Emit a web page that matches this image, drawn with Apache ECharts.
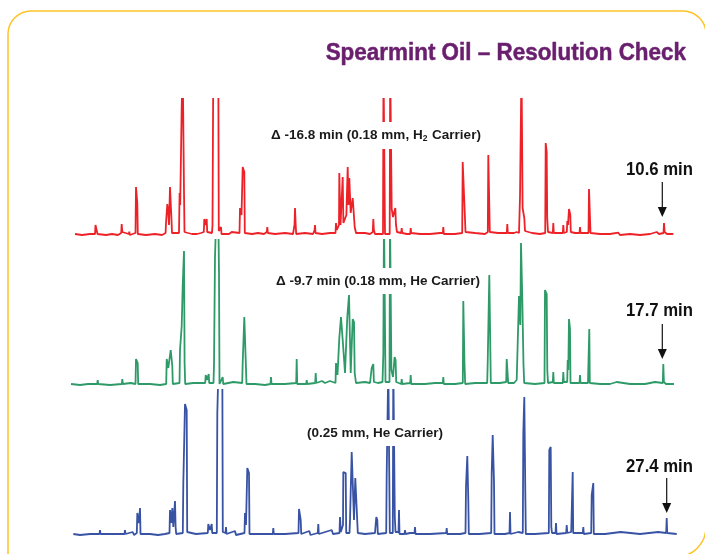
<!DOCTYPE html>
<html>
<head>
<meta charset="utf-8">
<script src="https://cdn.jsdelivr.net/npm/echarts@6/dist/echarts.min.js"></script>
<style>html,body{margin:0;padding:0;background:#fff;}#c{width:705px;height:554px;}</style>
</head>
<body>
<div id="c"></div>
<script>
// Chromatogram traces: [retention position, detector signal]
const redTrace = [[75,1],[82,0],[90,1],[95,1],[95.5,10],[97,9],[97.5,1],[106,0],[112,1],[118,0],[121.2,2],[121.7,11],[122.3,3],[124,1],[128.8,1],[129.3,3.3],[129.8,0],[135.5,2],[136,48],[137.3,32],[137.8,1],[146,0],[155,1],[162,0],[165.6,2],[166,12],[167.3,31],[168.3,22],[169,10],[170,48],[171,48],[171.5,15],[172,2],[179,2],[179.6,42],[180.2,30],[181.7,128],[182.7,170],[183.5,170],[184,43],[184.5,3],[188,2],[190,4],[192,1],[197,1],[201,2],[203.8,3],[204.3,16],[205.5,10],[206.7,16],[207.2,3],[212,2],[212.5,10],[213.3,170],[218.3,170],[218.8,4],[221,8],[221.5,1],[229,1],[231.7,3],[233,1],[239.5,2],[240,27],[241.5,20],[242.7,68],[244.3,63],[244.8,2],[252,1],[258,2],[264,1],[266.8,3],[267.3,8],[267.8,2],[275,1],[285,2],[293,1],[294.5,10],[295,27],[295.6,12],[296.2,1],[305,2],[313,1],[314.6,5],[315,10],[315.5,2],[322,1],[330,2],[335.5,2],[336,12],[336.8,5],[339,10],[339.3,62],[340.5,10],[342.7,58],[343.4,12],[346.4,20],[346.7,33],[347.7,68],[348.5,30],[349.3,57],[350.7,22],[352.7,37],[354,36],[354.7,8],[356,2],[365,2],[370,1],[372.8,3],[373.3,16],[373.9,5],[375,1],[383,1],[383.5,170],[384.5,170],[385,1],[389.7,1],[390.2,170],[391,170],[391.7,26],[393,18],[395.3,27],[396,10],[397,3],[401.2,2],[401.7,7],[402.2,2],[407,1],[410.2,1],[410.7,7],[411.2,2],[420,1],[430,1],[440,2],[442.8,2],[443.3,8],[443.8,1],[455,1],[462.2,2],[462.7,73],[464.3,72],[464.8,21],[465.5,3],[475,2],[485,1],[487.8,3],[488.3,80],[489.3,80],[489.8,3],[498,2],[506.8,2],[507.3,11],[507.8,2],[514,2],[516.7,3],[519,2],[520,38],[521.5,170],[522,170],[522.6,27],[524.3,17],[525,4],[532,2],[540,1],[545.2,2],[545.7,92],[546.7,83],[547.2,17],[548,3],[552.8,2],[553.3,12],[553.8,2],[560,2],[562.8,2],[563.3,10],[563.8,2],[566.8,3],[567.3,14],[568,10],[569,26],[570.3,20],[570.8,3],[575,2],[579.5,2],[580,8],[580.5,2],[588.5,2],[589,46],[590,45],[590.5,2],[600,1],[610,1],[618.3,2.3],[620,0],[630,1],[640,0],[650,1],[656.7,3],[659,1],[663.5,2],[664,12],[664.6,3],[667,1],[673.3,1]];

const greenTrace = [[71,1],[80,0],[88,1],[97.2,1],[97.7,5],[98.2,1],[110,0],[121.8,1],[122.3,6],[122.8,1],[130.7,2],[132,0],[135.5,1],[136,26],[137.7,22],[138.2,1],[150,1],[160,0],[166.2,1],[166.7,26],[168.3,17],[170.7,35],[172.3,19],[172.8,1],[179.5,2],[180,35],[181.7,59],[182.7,99],[184,134],[184.6,22],[185.2,1],[193.3,2],[195,0],[205.2,2],[205.7,10],[207,5],[208.7,11],[209.2,2],[213.5,2],[214,20],[215,128],[216.2,170],[218.3,170],[219,112],[219.5,1],[222.7,8],[223.2,1],[233.3,3],[235,1],[242.2,2],[242.7,22],[244.3,68],[246,70],[246.5,1],[255,1],[265,0],[270.5,1],[271,8],[271.5,1],[285,1],[296.2,2],[296.7,26],[297.2,1],[306.2,1],[306.7,5],[307.2,1],[315.2,2],[315.7,12],[316.2,2],[322,4],[325,2],[330,4],[335.5,2],[336,22],[337.5,10],[339.3,47],[341,68],[342.7,45],[345,12],[347.3,68],[349,90],[350.7,12],[352.7,66],[354,63],[354.7,12],[356,2],[365,3],[370,2],[371.7,17],[373.3,21],[373.9,3],[378,2],[382.5,3],[383.3,30],[384,170],[385,170],[385.5,3],[389.5,3],[390,170],[390.8,170],[391.4,15],[393,8],[394.6,28],[395.6,25],[396.2,3],[401.2,1],[401.7,6],[402.2,1],[410.2,2],[410.7,10],[411.2,1],[425,1],[435,2],[442.8,2],[443.3,8],[443.8,1],[455,1],[462.8,2],[463.3,84],[464.5,21],[465.2,1],[475,2],[487.2,2],[487.7,22],[489.3,110],[490.3,109],[490.8,2],[500,2],[506.2,3],[506.7,26],[507.7,25],[508.2,2],[514,2],[516.7,5],[518.5,3],[519,89],[520.3,60],[521,142],[522.3,86],[523.5,20],[524.2,2],[535,1],[544.5,2],[545,95],[546.7,91],[547.3,15],[548,2],[552.8,3],[553.3,13],[553.8,2],[560,2],[562.8,2],[563.3,13],[563.8,3],[567.2,3],[567.7,25],[568.3,15],[569,66],[570,56],[570.5,2],[579.5,2],[580,10],[580.5,2],[588,2],[588.3,16],[589.3,56],[589.8,2],[600,1],[610,1],[616.7,3],[618,1],[630,1],[645,1],[655,3],[657,1],[662.8,2],[663.3,21],[663.9,3],[666,1],[674,1]];

const blueTrace = [[73.3,1],[80,0],[90,1],[99.5,1],[100,5],[100.5,1],[112,1],[124.5,1],[125,5],[125.5,1],[132.7,3],[134,0],[136.8,2],[137.3,22],[139,12],[140,27],[140.5,1],[150,1],[158,0],[165,1],[169.5,2],[170,25],[171.3,12],[172.3,27],[173.3,8],[175,34],[175.6,8],[176.2,1],[182.8,2],[183.3,51],[185,131],[186.7,125],[187.2,3],[196,1],[196.7,3],[198,0],[207.8,2],[208.3,11],[210,5],[211.7,11],[212.2,2],[216.8,2],[217.3,121],[218.5,170],[222.3,170],[222.8,3],[225.5,2],[226,8],[226.5,1],[235,4],[236,0],[244.5,2],[245,22],[246,10],[247.3,67],[249,62],[249.5,1],[260,1],[272.8,1],[273.3,7],[273.8,1],[285,1],[298.5,2],[299,26],[300.7,15],[301.2,1],[309.3,4],[310.5,0],[317.8,2],[318.3,11],[318.8,1],[331.7,5],[333,1],[339.5,2],[340,18],[340.8,3],[343,10],[343.3,63],[345.7,62],[346.2,2],[349.5,2],[350,15],[351.7,83],[353.3,83],[354,15],[355.3,57],[357.3,57],[357.8,2],[365,1],[375,2],[376.3,18],[377.3,15],[377.8,1],[386.2,2],[386.7,61],[387.7,61],[388.3,170],[389.3,170],[389.8,2],[392.8,2],[393.3,170],[394.2,170],[394.8,18],[395.5,3],[398.5,3],[399,25],[399.5,1],[404.5,1],[405,5],[405.5,1],[410,2],[414.5,2],[415,8],[415.5,1],[430,1],[446.2,2],[446.7,7],[447.2,1],[460,1],[465.5,2],[466,48],[467.3,79],[468.3,35],[468.8,1],[479.5,1],[480,3],[480.5,1],[491.2,2],[491.7,62],[492.7,100],[494,53],[494.5,1],[505,1],[509.5,2],[510,23],[510.5,1],[518.3,3],[520,1],[522.8,2],[523.3,102],[524.3,138],[525.3,43],[525.8,1],[535,1],[548.8,2],[549.3,85],[550.7,88],[551.3,8],[552,2],[555.5,2],[556,12],[556.5,1],[566.2,2],[566.7,10],[567.3,2],[571.2,3],[571.7,23],[572.7,63],[573.2,2],[582.8,2],[583.3,8],[583.8,1],[591.2,2],[591.7,40],[593.3,52],[593.8,1],[605,1],[620.7,3],[622,1],[640,1],[658.3,3],[660,1],[666.2,2],[666.7,17],[667.2,2],[676.7,1]];

const traceLabels = ['Δ -16.8 min (0.18 mm, H{sub|2} Carrier)', 'Δ -9.7 min (0.18 mm, He Carrier)', '(0.25 mm, He Carrier)'];
const endTimes = ['10.6 min', '17.7 min', '27.4 min'];
const titleText = 'Spearmint Oil – Resolution Check';

const FONT = "'Liberation Sans', Arial, sans-serif";
const colors = ['#ED2228', '#2E9A68', '#3953A4'];
const traces = [redTrace, greenTrace, blueTrace];
const grids = [
  {left: 0, right: 0, top: 99, height: 136},
  {left: 0, right: 0, top: 240, height: 145},
  {left: 0, right: 0, top: 390, height: 145}
];
const yMax = [136, 145, 145];

const chart = echarts.init(document.getElementById('c'), null, {renderer: 'canvas'});

const labelPos = [[376, 135.5], [378, 281], [375, 433]];
const timePos = [[693, 169.7], [693, 311.2], [693, 466.7]];
const arrows = [[662.3, 182, 217], [662.3, 324, 359], [666.7, 478, 513]];

const graphic = [
  {type: 'rect', z: 0, silent: true,
   shape: {x: 8, y: 11, width: 698, height: 546, r: [23, 23, 30, 0]},
   style: {fill: 'none', stroke: '#FFC326', lineWidth: 1.5}},
  {type: 'text', z: 100, x: 686, y: 53.4, scaleX: 0.935,
   style: {text: titleText, fontFamily: FONT, fontSize: 24, fontWeight: 'bold', fill: '#6A1F6E',
     stroke: '#6A1F6E', lineWidth: 0.5, align: 'right', verticalAlign: 'middle'}}
];
traceLabels.forEach((t, i) => {
  graphic.push({type: 'text', z: 100, x: labelPos[i][0], y: labelPos[i][1],
    style: {text: t, fontFamily: FONT, fontSize: 13.5, fontWeight: 'bold', fill: '#1a1a1a',
      align: 'center', verticalAlign: 'middle', backgroundColor: '#fff', padding: [6, 4],
      rich: {sub: {fontSize: 8.5, fontWeight: 'bold', fontFamily: FONT, fill: '#1a1a1a', verticalAlign: 'bottom', padding: [6, 1, 0, 0]}}}});
});
endTimes.forEach((t, i) => {
  graphic.push({type: 'text', z: 100, x: timePos[i][0], y: timePos[i][1], scaleX: 0.93,
    style: {text: t, fontFamily: FONT, fontSize: 18, fontWeight: 'bold', fill: '#111',
      align: 'right', verticalAlign: 'middle'}});
});
arrows.forEach(a => {
  const [x, y1, y2] = a;
  graphic.push({type: 'line', z: 100, shape: {x1: x, y1: y1, x2: x, y2: y2 - 6}, style: {stroke: '#111', lineWidth: 1.2}});
  graphic.push({type: 'polygon', z: 100, shape: {points: [[x - 4.5, y2 - 10], [x + 4.5, y2 - 10], [x, y2]]}, style: {fill: '#111'}});
});

chart.setOption({
  animation: false,
  backgroundColor: '#fff',
  grid: grids,
  xAxis: grids.map((g, i) => ({type: 'value', gridIndex: i, min: 0, max: 705, show: false})),
  yAxis: grids.map((g, i) => ({type: 'value', gridIndex: i, min: 0, max: yMax[i], show: false})),
  series: traces.map((d, i) => ({
    type: 'line', xAxisIndex: i, yAxisIndex: i, data: d, symbol: 'none', showSymbol: false,
    clip: true, lineStyle: {color: colors[i], width: 1.8}, itemStyle: {color: colors[i]}, z: 2
  })),
  graphic: graphic
});
</script>
</body>
</html>
